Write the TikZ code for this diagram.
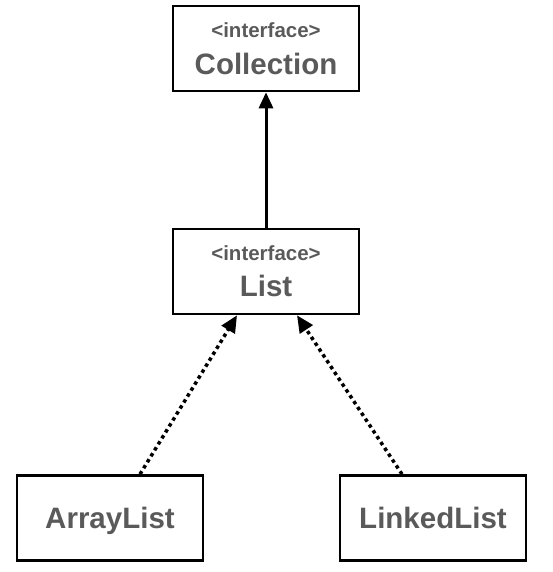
\documentclass[tikz,border=0pt]{standalone}
\usepackage{fontspec}
\setmainfont{Liberation Sans}
\usetikzlibrary{arrows.meta}
\definecolor{txt}{RGB}{90,90,90}
\tikzset{
  box/.style={draw=black, line width=2.6pt, minimum width=186pt, minimum height=85pt, inner sep=0pt},
  stereo/.style={anchor=base, text=txt, font=\bfseries\fontsize{20.5}{21}\selectfont, inner sep=0pt},
  cname/.style={anchor=base, text=txt, font=\bfseries\fontsize{29.5}{30}\selectfont, inner sep=0pt},
  solidarrow/.style={line width=3pt, -{Triangle[length=16pt,width=14pt]}},
  dotarrow/.style={line width=3.5pt, dash pattern=on 3.5pt off 3.5pt, -{Triangle[length=17pt,width=15pt]}}
}
\begin{document}
\begin{tikzpicture}[x=1pt,y=-1pt]
\useasboundingbox (0,0) rectangle (552,572);
\node[box] (coll) at (266,48.5) {};
\node[stereo] (collI) at (266,38) {<interface>};
\node[cname] (collN) at (266,75) {Collection};
\node[box] (list) at (266,271.5) {};
\node[stereo] (listI) at (266,260) {<interface>};
\node[cname] (listN) at (266,296) {List};
\node[box] (arr) at (110,518) {};
\node[cname] (arrN) at (110,528) {ArrayList};
\node[box] (link) at (433,518) {};
\node[cname] (linkN) at (433,528) {LinkedList};
\draw[solidarrow] (list.north) -- (coll.south);
\draw[dotarrow] ([xshift=30pt]arr.north) -- ([xshift=-29pt]list.south);
\draw[dotarrow] ([xshift=-31pt]link.north) -- ([xshift=31pt]list.south);
\end{tikzpicture}
\end{document}
